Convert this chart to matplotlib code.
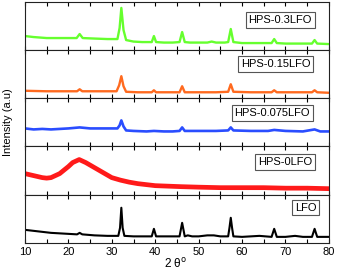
import matplotlib
matplotlib.use("Agg")
import matplotlib.pyplot as plt
from matplotlib.ticker import MultipleLocator

plt.rcParams['font.family'] = ['Liberation Sans', 'DejaVu Sans']

labels = ["HPS-0.3LFO", "HPS-0.15LFO", "HPS-0.075LFO", "HPS-0LFO", "LFO"]
colors = ["#66ff2e", "#ff6a1f", "#2a4dff", "#ff1a1a", "#000000"]

x_03 = [10, 12, 15, 18, 21.9, 22.6, 23.3, 26, 29, 31.3, 31.8, 32.2, 32.7, 33.3, 35, 37,
        39.2, 39.7, 40.2, 42, 44, 45.6, 46.2, 46.8, 48, 50, 52, 53, 54, 56, 56.8, 57.4,
        58.0, 60, 63, 66.8, 67.4, 68.0, 70, 73, 76.1, 76.7, 77.3, 80]
y_03 = [14, 13, 12, 12, 12, 16, 12, 11.5, 11, 11, 22, 42, 20, 10, 8.5, 8,
        8, 14, 8, 7.5, 7.5, 8, 18, 8, 7.5, 7.5, 7.5, 8.5, 7.5, 7.5, 8, 21,
        8, 7, 7, 7, 11, 7, 6.5, 6.5, 6.5, 10, 6.5, 6]

x_015 = [10, 15, 20, 22, 22.6, 23.2, 27, 31.1, 31.7, 32.2, 32.7, 33.3, 36, 39.2, 39.7,
         40.2, 43, 45.6, 46.2, 46.8, 50, 54, 56.8, 57.4, 58.0, 62, 66.8, 67.4, 68.0, 72,
         76.1, 76.7, 77.3, 80]
y_015 = [7.5, 7, 7, 7, 9, 7, 7, 7, 13, 22, 12, 6.5, 6, 6, 8,
         6, 6, 6, 12, 6, 6, 6, 6.5, 14, 6.5, 6, 6, 8, 6, 6,
         6, 8, 6, 5.5]

x_0075 = [10, 12, 14, 16, 18, 20, 22.6, 25, 28, 31.3, 31.8, 32.2, 32.7, 33.3, 35, 38,
          39.7, 42, 44, 45.6, 46.2, 46.8, 50, 54, 56.8, 57.4, 58.0, 62, 66, 67.4, 70,
          74, 76.7, 78, 80]
y_0075 = [18, 17, 17.5, 17, 17.5, 18, 19, 18, 18, 18, 21, 26, 20, 16, 15.5, 15,
          15.5, 15, 15, 15.5, 19, 15.5, 15.5, 15.5, 16, 19, 16, 15.5, 15.5, 16.5, 15.5,
          15, 17, 15, 15]

x_0 = [10, 12, 14, 15, 16, 18, 20, 21, 22.5, 24, 26, 28, 30, 32, 34, 36, 38, 40, 43,
       46, 50, 55, 60, 65, 70, 75, 80]
y_0 = [21, 19, 17, 16.5, 17, 21, 28, 32, 35, 32, 27, 22, 17, 14.5, 12.5, 11, 10, 9, 8.5,
       8, 7.5, 7, 7, 7, 6.5, 6.5, 6]

x_lfo = [10, 12, 14, 16, 18, 20, 22, 22.6, 23.2, 26, 29, 31.5, 31.9, 32.2, 32.5, 32.9,
         35, 38, 39.2, 39.7, 40.2, 42, 45.6, 46.2, 46.8, 47.5, 48.5, 50, 52, 53.5, 55,
         56.8, 57.1, 57.4, 57.7, 58.0, 60, 64, 66.8, 67.4, 68.0, 70, 72.2, 74, 76.1,
         76.7, 77.3, 80]
y_lfo = [13, 12, 11, 10, 9.5, 9, 8.5, 10, 8.5, 7.5, 7, 7, 15, 35, 15, 7,
         6.5, 6.5, 6.5, 14, 6.5, 6.5, 6.5, 20, 6.5, 7.5, 6.5, 6.5, 7.5, 7.5, 6.5,
         6.5, 15, 25, 15, 6.5, 6, 7, 6, 14, 6, 6, 7, 6, 6,
         14, 6, 6]

series = [(x_03, y_03), (x_015, y_015), (x_0075, y_0075), (x_0, y_0), (x_lfo, y_lfo)]
label_pos = [(0.84, 0.63), (0.824, 0.71), (0.814, 0.70), (0.855, 0.68), (0.924, 0.73)]
widths = [1.7, 1.7, 1.9, 3.4, 1.5]

fig = plt.figure(figsize=(3.37, 2.72), dpi=100)
axes = fig.subplots(5, 1, sharex=True)
fig.subplots_adjust(left=0.074, right=0.976, top=0.993, bottom=0.107, hspace=0)

for ax, (xs, ys), lab, col, (lx, ly), lw in zip(axes, series, labels, colors, label_pos, widths):
    ax.plot(xs, ys, color=col, lw=lw)
    ax.set_xlim(10, 80)
    ax.set_ylim(0, 48)
    ax.set_yticks([])
    ax.xaxis.set_major_locator(MultipleLocator(10))
    ax.xaxis.set_minor_locator(MultipleLocator(5))
    ax.tick_params(axis='x', which='both', direction='in', top=True, bottom=True,
                   length=3, width=0.8, labelsize=8, pad=3)
    for s in ax.spines.values():
        s.set_linewidth(0.8)
        s.set_color('#222222')
    ax.text(lx, ly, lab, transform=ax.transAxes, ha='center', va='center', fontsize=8,
            bbox=dict(boxstyle='square,pad=0.25', fc='white', ec='#555555', lw=0.8))

for ax in axes[:-1]:
    ax.tick_params(labelbottom=False)

fig.text(0.025, 0.55, "Intensity (a.u)", rotation=90, ha='center', va='center', fontsize=8)
fig.text(0.52, 0.03, "2 θ$^{\\mathrm{o}}$", ha='center', va='center', fontsize=8.5)

fig.savefig("out.png", dpi=100)
